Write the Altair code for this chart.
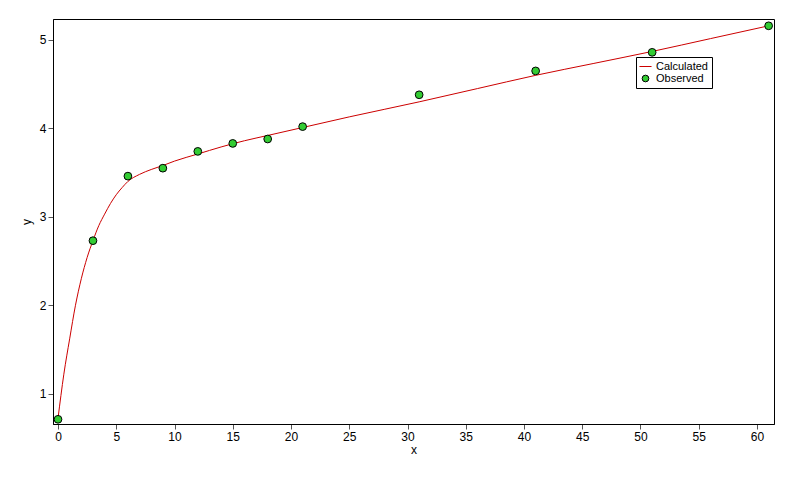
import altair as alt
import pandas as pd

# Observed data
obs_x = [0, 3, 6, 9, 12, 15, 18, 21, 31, 41, 51, 61]
obs_y = [0.71, 2.73, 3.46, 3.55, 3.74, 3.83, 3.88, 4.02, 4.38, 4.65, 4.86, 5.16]

# Calculated curve
calc_x = [0, 0.5, 1, 1.5, 2, 2.5, 3, 3.5, 4, 4.5, 5, 5.5, 6, 7, 8, 9, 10, 12, 14, 16, 18, 21,
          25, 31, 36, 41, 46, 51, 56, 61]
calc_y = [0.72, 1.22, 1.62, 2.00, 2.30, 2.54, 2.73, 2.90, 3.03, 3.15, 3.25, 3.33, 3.40,
          3.48, 3.535, 3.58, 3.63, 3.71, 3.79, 3.86, 3.92, 4.01, 4.13, 4.30, 4.45, 4.60,
          4.735, 4.87, 5.015, 5.16]

series_names = ["Calculated", "Observed"]
x_ticks = list(range(0, 61, 5))
y_ticks = [1, 2, 3, 4, 5]

obs = pd.DataFrame({"x": obs_x, "y": obs_y, "series": "Observed"})
calc = pd.DataFrame({"x": calc_x, "y": calc_y, "series": "Calculated"})

FONT = "Liberation Sans"

xs = alt.Scale(domain=[-0.43, 61.46], nice=False, zero=False)
ys = alt.Scale(domain=[0.657, 5.237], nice=False, zero=False)

xax = alt.Axis(values=x_ticks, title="x", grid=False, domainColor="black", format="d",
               tickColor="#555555", tickSize=5, labelFontSize=12, labelColor="black",
               labelFont=FONT, titleFont=FONT, titleFontSize=12, titleFontWeight="normal",
               titleColor="black", labelPadding=2, titlePadding=2)
yax = alt.Axis(values=y_ticks, title="y", grid=False, domainColor="black", format="d",
               tickColor="#555555", tickSize=5, labelFontSize=12, labelColor="black",
               labelFont=FONT, titleFont=FONT, titleFontSize=12, titleFontWeight="normal",
               titleColor="black", labelPadding=2, titlePadding=6)

stroke_scale = alt.Scale(domain=series_names, range=["#cc0000", "#000000"])
fill_scale = alt.Scale(domain=series_names, range=["#cc0000", "#33cc33"])
shape_scale = alt.Scale(domain=series_names, range=["M-1.8,0L1.8,0", "circle"])

legend = alt.Legend(title=None, orient="none", legendX=583, legendY=38,
                    fillColor="white", strokeColor="black", padding=4,
                    labelFont=FONT, labelFontSize=11, labelColor="black",
                    symbolSize=45, symbolStrokeWidth=1, rowPadding=0, labelOffset=5)

line = alt.Chart(calc).mark_line(strokeWidth=1, interpolate="monotone").encode(
    x=alt.X("x:Q", scale=xs, axis=xax),
    y=alt.Y("y:Q", scale=ys, axis=yax),
    stroke=alt.Stroke("series:N", scale=stroke_scale, legend=legend),
)

points = alt.Chart(obs).mark_point(filled=True, size=60, opacity=1, strokeWidth=1).encode(
    x=alt.X("x:Q", scale=xs),
    y=alt.Y("y:Q", scale=ys),
    fill=alt.Fill("series:N", scale=fill_scale, legend=legend),
    stroke=alt.Stroke("series:N", scale=stroke_scale, legend=legend),
    shape=alt.Shape("series:N", scale=shape_scale, legend=legend),
)

chart = alt.layer(line, points).properties(
    width=721, height=405,
    autosize=alt.AutoSizeParams(type="none"),
    padding={"left": 45, "top": 11, "right": 15, "bottom": 45},
    background="white",
).configure_view(stroke="black", strokeWidth=1)

chart.save("out.html", embed_options={"renderer": "svg", "actions": False})
